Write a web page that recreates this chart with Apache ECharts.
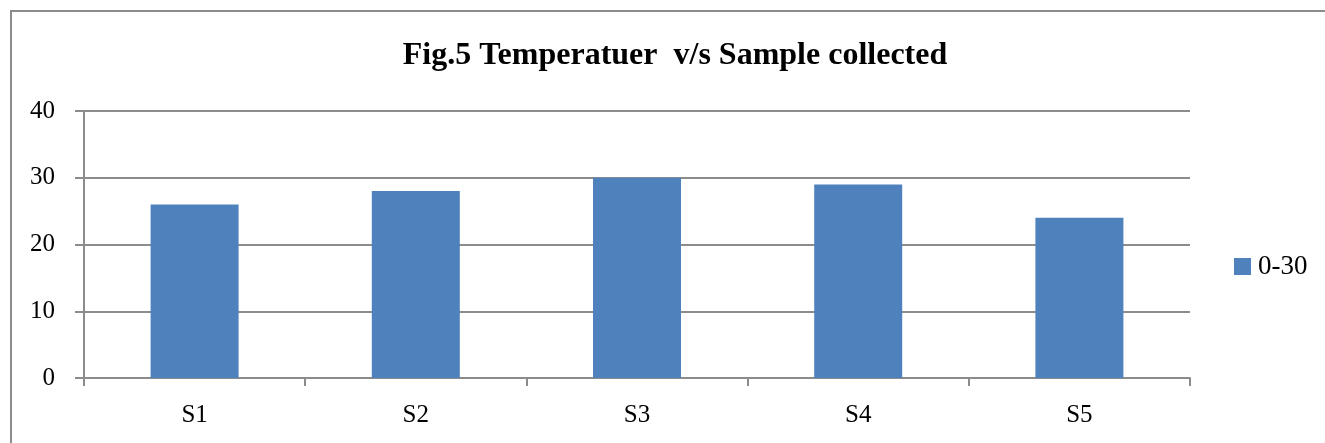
<!DOCTYPE html>
<html>
<head>
<meta charset="utf-8">
<script src="https://cdn.jsdelivr.net/npm/echarts@6/dist/echarts.min.js"></script>
<style>html,body{margin:0;padding:0;background:#fff;}#c{width:1325px;height:443px;}</style>
</head>
<body>
<div id="c"></div>
<script>
const categories = ['S1', 'S2', 'S3', 'S4', 'S5'];
const seriesName = '0-30';
const values = [26, 28, 30, 29, 24];
const yTicks = [0, 10, 20, 30, 40];
const titleText = 'Fig.5 Temperatuer  v/s Sample collected';

const font = '"Liberation Serif", "DejaVu Serif", serif';
const chart = echarts.init(document.getElementById('c'), null, {renderer: 'canvas'});
chart.setOption({
  animation: false,
  backgroundColor: '#fff',
  title: {
    text: titleText,
    left: 670, top: 35, textAlign: 'center',
    textStyle: {fontFamily: font, fontWeight: 'bold', fontSize: 32, color: '#000'}
  },
  legend: {
    left: 1229, top: 248,
    itemWidth: 17, itemHeight: 17, itemGap: 7,
    icon: 'rect',
    textStyle: {fontFamily: font, fontSize: 27, color: '#000', padding: [0,0,0,2]},
    data: [seriesName]
  },
  grid: {left: 84, right: 135, top: 111, bottom: 65, containLabel: false},
  xAxis: {
    type: 'category', data: categories, boundaryGap: true,
    axisLine: {lineStyle: {color: '#8c8c8c', width: 2}},
    axisTick: {show: true, length: 8, alignWithLabel: false, lineStyle: {color: '#8c8c8c', width: 2}},
    axisLabel: {fontFamily: font, fontSize: 25, color: '#000', margin: 25}
  },
  yAxis: {
    type: 'value', min: yTicks[0], max: yTicks[yTicks.length-1], interval: 10,
    axisLine: {show: true, lineStyle: {color: '#8c8c8c', width: 2}},
    axisTick: {show: true, length: 9, lineStyle: {color: '#8c8c8c', width: 2}},
    splitLine: {lineStyle: {color: '#8c8c8c', width: 2}},
    axisLabel: {fontFamily: font, fontSize: 25, color: '#000', margin: 29}
  },
  series: [{
    name: seriesName, type: 'bar', data: values,
    barWidth: 88,
    itemStyle: {color: '#4F81BD'}
  }],
  graphic: [{
    type: 'polyline',
    shape: {points: [[11, 443], [11, 11], [1325, 11]]},
    style: {stroke: '#8c8c8c', lineWidth: 2, fill: null}
  }]
});
</script>
</body>
</html>
